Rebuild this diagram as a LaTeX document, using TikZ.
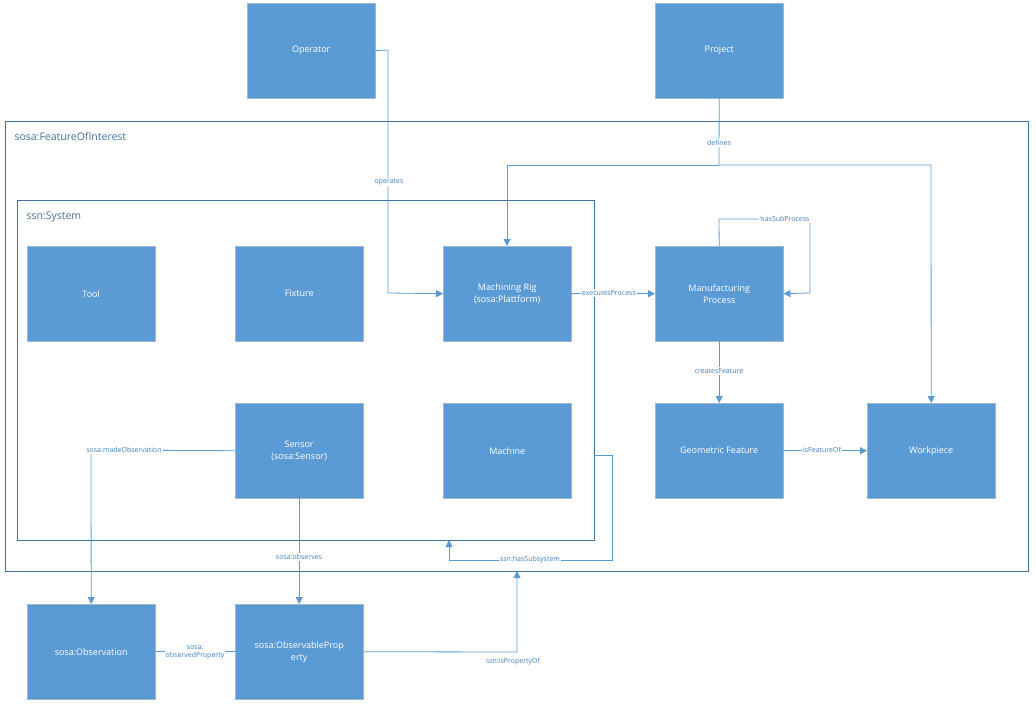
\documentclass[tikz,border=0pt]{standalone}
\usepackage{fontspec}
\setmainfont{Open Sans}
\usetikzlibrary{arrows.meta}
\definecolor{boxfill}{HTML}{5B9BD5}
\definecolor{boxline}{HTML}{9DB7D0}
\definecolor{edge}{HTML}{5B9BD5}
\definecolor{frame}{HTML}{41719C}
\definecolor{lbl}{HTML}{3F7FC0}
\tikzset{
 box/.style={draw=boxline,fill=boxfill,text=white,minimum width=128pt,minimum height=95pt,inner sep=0pt,align=center,font=\fontsize{9}{12}\selectfont,anchor=north west},
 con/.style={draw=edge,line width=0.8pt,-{Triangle[length=7pt,width=7pt]}},
 plain/.style={draw=edge,line width=0.8pt},
 lab/.style={fill=white,text=lbl,inner sep=1pt,font=\fontsize{7}{8}\selectfont,align=center},
 group/.style={draw=frame,line width=0.8pt},
}
\begin{document}
\begin{tikzpicture}[x=1pt,y=-1pt]
\useasboundingbox (0,0) rectangle (1035,709);
\draw[group] (5,121) rectangle (1028,571);
\node[anchor=west,text=frame,font=\fontsize{10.5}{12}\selectfont] (foi) at (11,137) {sosa:FeatureOfInterest};
\draw[group] (17,200) rectangle (594,540);
\node[anchor=west,text=frame,font=\fontsize{10.5}{12}\selectfont] (sys) at (23,217) {ssn:System};
\coordinate (sysR) at (594,455);
\coordinate (sysB) at (449,540);
\coordinate (foiB) at (517,571);

\node[box] (op) at (247,3) {Operator};
\node[box] (pr) at (655,3) {Project};
\node[box] (tool) at (27,246) {Tool};
\node[box] (fix) at (235,246) {Fixture};
\node[box] (rig) at (443,246) {Machining Rig\\(sosa:Plattform)};
\node[box] (mp) at (655,246) {Manufacturing\\Process};
\node[box] (sen) at (235,403) {Sensor\\(sosa:Sensor)};
\node[box] (mac) at (443,403) {Machine};
\node[box] (gf) at (655,403) {Geometric Feature};
\node[box] (wp) at (867,403) {Workpiece};
\node[box] (obs) at (27,604) {sosa:Observation};
\node[box] (op2) at (235,604) {sosa:ObservableProp\\erty};

% operates
\draw[con] (op.east) -- (388,50) -- (388,293) -- (rig.west);
\node[lab] (l1) at (389,182) {operates};
% defines
\draw[plain] (pr.south) -- (719,165);
\draw[con] (719,165) -- (507,165) -- (507,246);
\draw[con] (719,165) -- (931,165) -- (wp.north);
\node[lab] (l2) at (719,143) {defines};
% executesProcess
\draw[con] (rig.east) -- (mp.west);
\node[lab] (l3) at (609,293) {executesProcess};
% hasSubProcess
\draw[con] (mp.north) -- (719,219) -- (810,219) -- (810,293) -- (mp.east);
\node[lab] (l4) at (785,219) {hasSubProcess};
% createsFeature
\draw[con] (mp.south) -- (gf.north);
\node[lab] (l5) at (719,371) {createsFeature};
% isFeatureOf
\draw[con] (gf.east) -- (wp.west);
\node[lab] (l6) at (822,450) {isFeatureOf};
% madeObservation
\draw[con] (sen.west) -- (91,450) -- (obs.north);
\node[lab] (l7) at (124,450) {sosa:madeObservation};
% observes
\draw[con] (sen.south) -- (op2.north);
\node[lab] (l8) at (299,557) {sosa:observes};
% hasSubsystem
\draw[con] (sysR) -- (612,455) -- (612,560) -- (449,560) -- (sysB);
\node[lab] (l9) at (530,560) {ssn:hasSubsystem};
% isPropertyOf
\draw[con] (op2.east) -- (517,652) -- (foiB);
\node[lab,fill=none] (l10) at (513,662) {ssn:isPropertyOf};
% observedProperty
\draw[plain] (obs.east) -- (op2.west);
\node[lab] (l11) at (195,652) {sosa:\\observedProperty};
\end{tikzpicture}
\end{document}
